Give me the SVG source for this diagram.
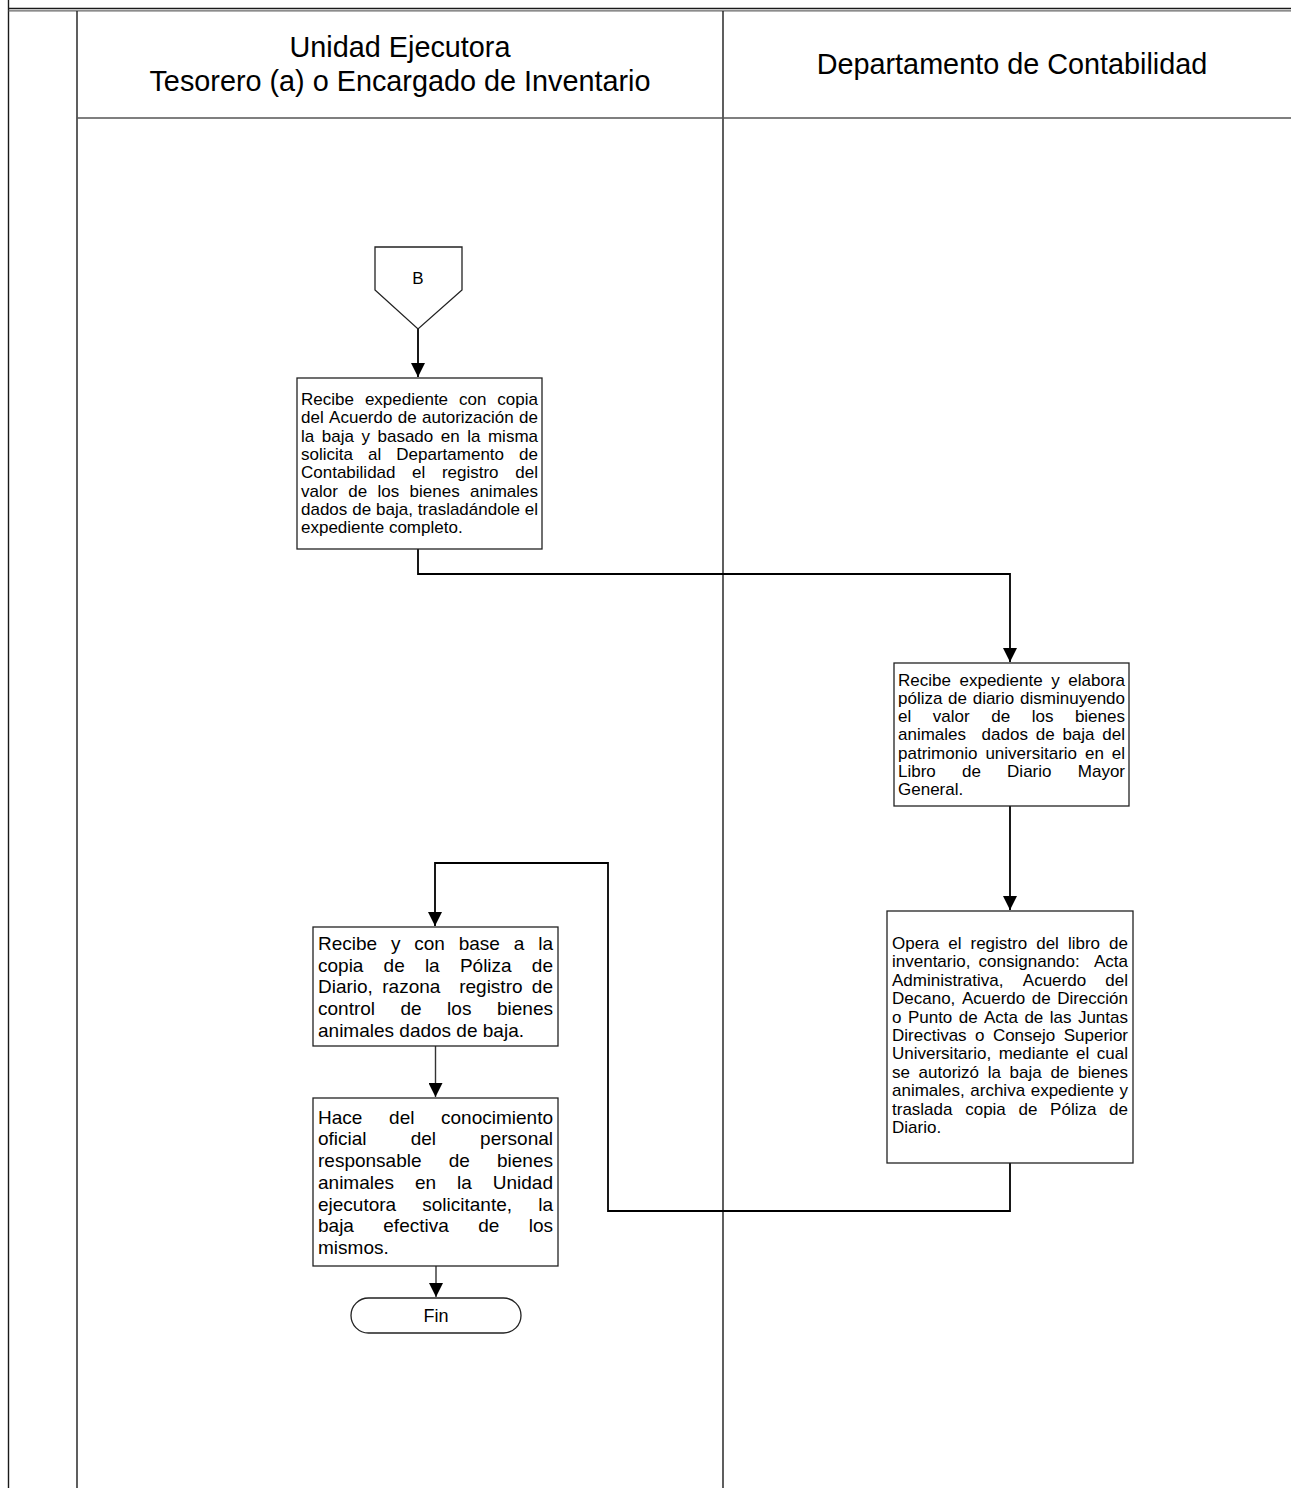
<svg xmlns="http://www.w3.org/2000/svg" width="1291" height="1488" viewBox="0 0 1291 1488">
  <style>
    .lane { stroke: #1a1a1a; stroke-width: 1.4; fill: none; }
    .box { fill: #ffffff; stroke: #222222; stroke-width: 1.3; }
    .conn { fill: none; stroke: #000000; stroke-width: 1.8; }
    .conn-thin { fill: none; stroke: #333333; stroke-width: 1.4; }
    text { font-family: "Liberation Sans", Arial, sans-serif; fill: #000000; }
    .hdr { font-size: 28.8px; text-anchor: middle; }
    .t17 { font-size: 17px; }
    .t19 { font-size: 19px; }
    .e { text-anchor: end; }
    .c { text-anchor: middle; }
  </style>
  <defs>
    <marker id="arrow" markerUnits="userSpaceOnUse" markerWidth="14" markerHeight="14" refX="14" refY="7" orient="auto">
      <path d="M0,0 L14,7 L0,14 Z" fill="#000000"/>
    </marker>
  </defs>

  <rect x="0" y="0" width="1291" height="1488" fill="#ffffff"/>

  <!-- swimlane frame -->
  <g id="lanes">
    <line class="lane" x1="8.5" y1="0" x2="8.5" y2="1488" stroke-width="1.6"/>
    <line class="lane" x1="8.5" y1="8.5" x2="1291" y2="8.5" stroke-width="1.6"/>
    <line x1="8.5" y1="10.8" x2="1291" y2="10.8" stroke="#666666" stroke-width="1.2"/>
    <line class="lane" x1="77" y1="11" x2="77" y2="1488"/>
    <line class="lane" x1="723" y1="11" x2="723" y2="1488"/>
    <line x1="77" y1="118" x2="1291" y2="118" stroke="#555555" stroke-width="1.3"/>
    <text class="hdr" x="400" y="57">Unidad Ejecutora</text>
    <text class="hdr" x="400" y="91">Tesorero (a) o Encargado de Inventario</text>
    <text class="hdr" x="1012" y="74">Departamento de Contabilidad</text>
  </g>

  <!-- connectors -->
  <g id="connectors">
    <path class="conn" d="M418,329 L418,377" marker-end="url(#arrow)"/>
    <path class="conn" d="M418,549 L418,574 L1010,574 L1010,662" marker-end="url(#arrow)"/>
    <path class="conn" d="M1010,806 L1010,910" marker-end="url(#arrow)"/>
    <path class="conn" d="M1010,1163 L1010,1211 L608,1211 L608,863 L435,863 L435,926" marker-end="url(#arrow)"/>
    <path class="conn-thin" d="M435.5,1046 L435.5,1097" marker-end="url(#arrow)"/>
    <path class="conn-thin" d="M436,1266 L436,1297" marker-end="url(#arrow)"/>
  </g>

  <!-- off-page connector B -->
  <g id="connector-b">
    <polygon class="box" points="375,247 462,247 462,290 418,329 375,290"/>
    <text class="t17 c" x="418" y="284">B</text>
  </g>

  <!-- Unidad Ejecutora: request to accounting -->
  <g id="step-recibe-expediente">
    <rect class="box" x="297" y="378" width="245" height="171"/>
    <g class="t17">
      <text x="301" y="405">Recibe</text><text x="364.9" y="405">expediente</text><text x="459.1" y="405">con</text><text class="e" x="538" y="405">copia</text>
      <text x="301" y="423.3">del</text><text x="329.1" y="423.3">Acuerdo</text><text x="397.8" y="423.3">de</text><text x="422.1" y="423.3">autorización</text><text class="e" x="538" y="423.3">de</text>
      <text x="301" y="441.6">la</text><text x="321.8" y="441.6">baja</text><text x="361.4" y="441.6">y</text><text x="377.5" y="441.6">basado</text><text x="440.8" y="441.6">en</text><text x="467.3" y="441.6">la</text><text class="e" x="538" y="441.6">misma</text>
      <text x="301" y="459.9">solicita</text><text x="368.1" y="459.9">al</text><text x="396.3" y="459.9">Departamento</text><text class="e" x="538" y="459.9">de</text>
      <text x="301" y="478.2">Contabilidad</text><text x="412.1" y="478.2">el</text><text x="441.9" y="478.2">registro</text><text class="e" x="538" y="478.2">del</text>
      <text x="301" y="496.5">valor</text><text x="348.2" y="496.5">de</text><text x="377.5" y="496.5">los</text><text x="409.6" y="496.5">bienes</text><text class="e" x="538" y="496.5">animales</text>
      <text x="301" y="514.8">dados</text><text x="352.2" y="514.8">de</text><text x="376" y="514.8">baja,</text><text x="417.8" y="514.8">trasladándole</text><text class="e" x="538" y="514.8">el</text>
      <text x="301" y="533.1">expediente completo.</text>
    </g>
  </g>

  <!-- Contabilidad: journal entry -->
  <g id="step-poliza-diario">
    <rect class="box" x="894" y="663" width="235" height="143"/>
    <g class="t17">
      <text x="898" y="685.5">Recibe</text><text x="959.5" y="685.5">expediente</text><text x="1051.3" y="685.5">y</text><text class="e" x="1125" y="685.5">elabora</text>
      <text x="898" y="703.8">póliza</text><text x="948.1" y="703.8">de</text><text x="972.7" y="703.8">diario</text><text class="e" x="1125" y="703.8">disminuyendo</text>
      <text x="898" y="722.1">el</text><text x="932.8" y="722.1">valor</text><text x="991.2" y="722.1">de</text><text x="1031.7" y="722.1">los</text><text class="e" x="1125" y="722.1">bienes</text>
      <text x="898" y="740.4">animales</text><text x="981.6" y="740.4">dados</text><text x="1035.7" y="740.4">de</text><text x="1062.4" y="740.4">baja</text><text class="e" x="1125" y="740.4">del</text>
      <text x="898" y="758.7">patrimonio</text><text x="985.4" y="758.7">universitario</text><text x="1085" y="758.7">en</text><text class="e" x="1125" y="758.7">el</text>
      <text x="898" y="777">Libro</text><text x="962" y="777">de</text><text x="1007.1" y="777">Diario</text><text class="e" x="1125" y="777">Mayor</text>
      <text x="898" y="795.3">General.</text>
    </g>
  </g>

  <!-- Contabilidad: inventory book -->
  <g id="step-registro-inventario">
    <rect class="box" x="887" y="911" width="246" height="252"/>
    <g class="t17">
      <text x="892" y="949">Opera</text><text x="948.2" y="949">el</text><text x="970.5" y="949">registro</text><text x="1036.2" y="949">del</text><text x="1067.9" y="949">libro</text><text class="e" x="1128" y="949">de</text>
      <text x="892" y="967.4">inventario,</text><text x="978.6" y="967.4">consignando:</text><text class="e" x="1128" y="967.4">Acta</text>
      <text x="892" y="985.8">Administrativa,</text><text x="1022.8" y="985.8">Acuerdo</text><text class="e" x="1128" y="985.8">del</text>
      <text x="892" y="1004.2">Decano,</text><text x="961.9" y="1004.2">Acuerdo</text><text x="1031.8" y="1004.2">de</text><text class="e" x="1128" y="1004.2">Dirección</text>
      <text x="892" y="1022.6">o</text><text x="907.9" y="1022.6">Punto</text><text x="958.7" y="1022.6">de</text><text x="984" y="1022.6">Acta</text><text x="1024.4" y="1022.6">de</text><text x="1049.7" y="1022.6">las</text><text class="e" x="1128" y="1022.6">Juntas</text>
      <text x="892" y="1041">Directivas</text><text x="975" y="1041">o</text><text x="992.9" y="1041">Consejo</text><text class="e" x="1128" y="1041">Superior</text>
      <text x="892" y="1059.4">Universitario,</text><text x="998.7" y="1059.4">mediante</text><text x="1076.1" y="1059.4">el</text><text class="e" x="1128" y="1059.4">cual</text>
      <text x="892" y="1077.8">se</text><text x="918.6" y="1077.8">autorizó</text><text x="987.8" y="1077.8">la</text><text x="1009.6" y="1077.8">baja</text><text x="1050.4" y="1077.8">de</text><text class="e" x="1128" y="1077.8">bienes</text>
      <text x="892" y="1096.2">animales,</text><text x="970.3" y="1096.2">archiva</text><text x="1030.7" y="1096.2">expediente</text><text class="e" x="1128" y="1096.2">y</text>
      <text x="892" y="1114.6">traslada</text><text x="965.2" y="1114.6">copia</text><text x="1018.5" y="1114.6">de</text><text x="1050.1" y="1114.6">Póliza</text><text class="e" x="1128" y="1114.6">de</text>
      <text x="892" y="1133">Diario.</text>
    </g>
  </g>

  <!-- Unidad Ejecutora: control record -->
  <g id="step-razona-registro">
    <rect class="box" x="313" y="927" width="245" height="119"/>
    <g class="t19">
      <text x="318" y="950">Recibe</text><text x="390.9" y="950">y</text><text x="414.2" y="950">con</text><text x="458.7" y="950">base</text><text x="513.7" y="950">a</text><text class="e" x="553" y="950">la</text>
      <text x="318" y="971.7">copia</text><text x="383.6" y="971.7">de</text><text x="424.9" y="971.7">la</text><text x="459.9" y="971.7">Póliza</text><text class="e" x="553" y="971.7">de</text>
      <text x="318" y="993.4">Diario,</text><text x="382.3" y="993.4">razona</text><text x="459.2" y="993.4">registro</text><text class="e" x="553" y="993.4">de</text>
      <text x="318" y="1015.1">control</text><text x="400.5" y="1015.1">de</text><text x="447.1" y="1015.1">los</text><text class="e" x="553" y="1015.1">bienes</text>
      <text x="318" y="1036.8">animales dados de baja.</text>
    </g>
  </g>

  <!-- Unidad Ejecutora: notify staff -->
  <g id="step-conocimiento-oficial">
    <rect class="box" x="313" y="1098" width="245" height="168"/>
    <g class="t19">
      <text x="318" y="1123.7">Hace</text><text x="389.1" y="1123.7">del</text><text class="e" x="553" y="1123.7">conocimiento</text>
      <text x="318" y="1145.4">oficial</text><text x="410.7" y="1145.4">del</text><text class="e" x="553" y="1145.4">personal</text>
      <text x="318" y="1167.1">responsable</text><text x="448.7" y="1167.1">de</text><text class="e" x="553" y="1167.1">bienes</text>
      <text x="318" y="1188.8">animales</text><text x="415" y="1188.8">en</text><text x="457.1" y="1188.8">la</text><text class="e" x="553" y="1188.8">Unidad</text>
      <text x="318" y="1210.5">ejecutora</text><text x="422.3" y="1210.5">solicitante,</text><text class="e" x="553" y="1210.5">la</text>
      <text x="318" y="1232.2">baja</text><text x="383.3" y="1232.2">efectiva</text><text x="478.2" y="1232.2">de</text><text class="e" x="553" y="1232.2">los</text>
      <text x="318" y="1253.9">mismos.</text>
    </g>
  </g>

  <!-- terminator -->
  <g id="end-fin">
    <rect class="box" x="351" y="1298" width="170" height="35" rx="17.5" ry="17.5"/>
    <text class="c" x="436" y="1322" font-size="18px">Fin</text>
  </g>
</svg>
